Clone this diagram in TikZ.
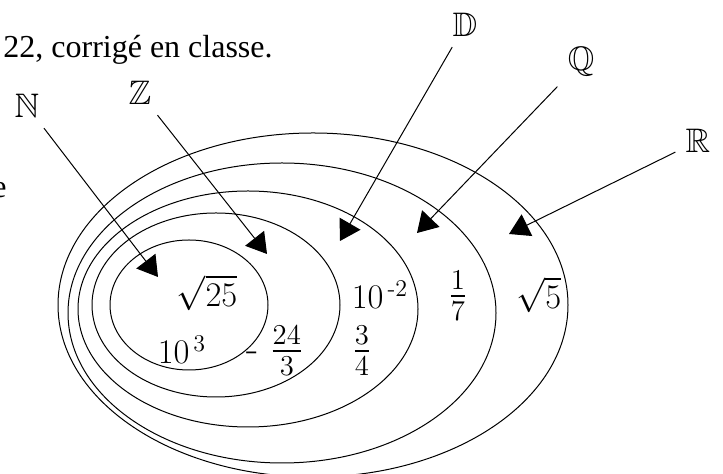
\documentclass[tikz,border=0pt]{standalone}
\usepackage{amsmath,amssymb,amsfonts}
\usepackage{fontspec}
\newfontfamily\timesfont{Liberation Serif}
\usepackage{tikz}
\usetikzlibrary{arrows.meta, positioning}

\begin{document}
\begin{tikzpicture}[
    x=0.5pt, y=-0.5pt,
    set/.style={draw, line width=0.5pt},
    setlabel/.style={font=\fontsize{17}{20}\selectfont, inner sep=5pt},
    elem/.style={font=\fontsize{17}{20}\selectfont, inner sep=0pt},
    fracelem/.style={font=\fontsize{20}{24}\selectfont, inner sep=0pt},
    arrow/.style={line width=0.5pt, -{Triangle[length=10pt, width=12pt]}}
]
\useasboundingbox (0,0) rectangle (723,474);

% Text around
\node (note) [anchor=base west, inner sep=0pt, font=\timesfont\fontsize{16}{19}\selectfont] at (3,58) {22, corrigé en classe.};
\node (cut) [anchor=base east, inner sep=0pt, font=\timesfont\fontsize{16}{19}\selectfont] at (7,198) {e};

% Sets
\draw [set] (313,305) ellipse [x radius=255, y radius=172];
\draw [set] (282,313) ellipse [x radius=214, y radius=150];
\draw [set] (248,309) ellipse [x radius=170, y radius=118];
\draw [set] (216,305) ellipse [x radius=124, y radius=92];
\draw [set] (189,305) ellipse [x radius=79, y radius=65];

% Elements
\node (sqrtA) [elem] at (207,293) {$\sqrt{25}$};
\node (powA) [elem] at (182,350) {$10^{\,3}$};
\node (negfrac) [fracelem] at (275,351) {$\text{-}\;\frac{24}{3}$};
\node (powB) [elem] at (380,295) {$10^{\,\text{-}2}$};
\node (fracA) [fracelem] at (362,351) {$\frac{3}{4}$};
\node (fracB) [fracelem] at (458,296) {$\frac{1}{7}$};
\node (sqrtB) [elem] at (539,295) {$\sqrt{5}$};

% Labels
\node (N) [setlabel] at (27,106) {$\mathbb{N}$};
\node (Z) [setlabel] at (140,93) {$\mathbb{Z}$};
\node (D) [setlabel] at (465,25) {$\mathbb{D}$};
\node (Q) [setlabel] at (581,62) {$\mathbb{Q}$};
\node (R) [setlabel] at (698,141) {$\mathbb{R}$};

\coordinate (tipN) at (158,277);
\coordinate (tipZ) at (267,254);
\coordinate (tipD) at (340,241);
\coordinate (tipQ) at (417,233);
\coordinate (tipR) at (509,234);

% Edges
\draw [arrow] (N) -- (tipN);
\draw [arrow] (Z) -- (tipZ);
\draw [arrow] (D) -- (tipD);
\draw [arrow] (Q) -- (tipQ);
\draw [arrow] (R) -- (tipR);

\end{tikzpicture}
\end{document}
